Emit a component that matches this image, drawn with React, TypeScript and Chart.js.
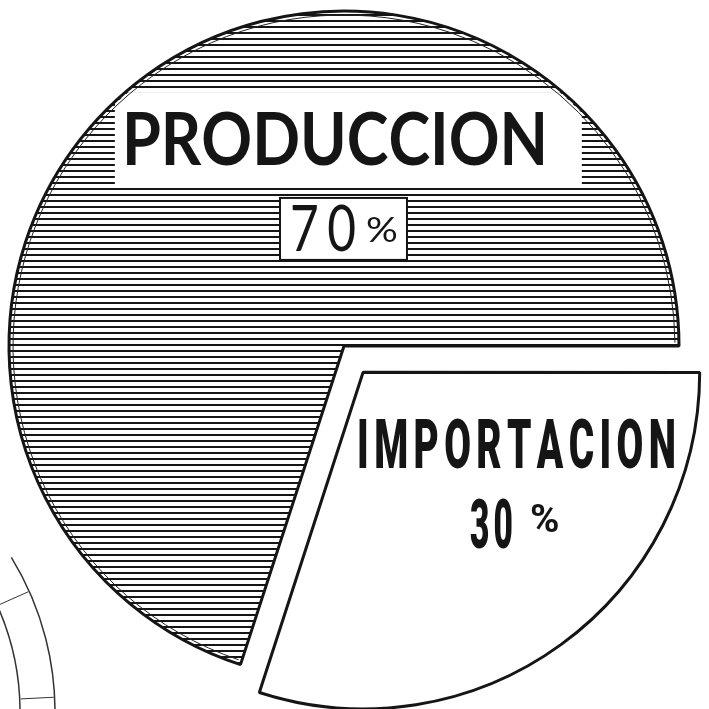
import React, { useEffect, useRef } from 'react';
import { Chart, registerables } from 'chart.js';

Chart.register(...registerables);

// ---- data ----
const categories = ['IMPORTACION', 'PRODUCCION'];
const shares = [30, 70];
const explodeOffsets = [130, 0];

function makeHatch(ctx: CanvasRenderingContext2D) {
  const c = document.createElement('canvas');
  c.width = 64;
  c.height = 6;
  const g = c.getContext('2d')!;
  g.fillStyle = '#ffffff';
  g.fillRect(0, 0, 64, 6);
  g.fillStyle = '#151515';
  g.fillRect(0, 2, 64, 2);
  return ctx.createPattern(c, 'repeat')!;
}

// draw text fitted to a width and cap height, with optional letter gap
function drawFitted(
  ctx: CanvasRenderingContext2D,
  text: string,
  x: number,
  baseline: number,
  width: number,
  cap: number,
  family: string,
  weight: string,
  gap: number,
  capRatio = 0.72
) {
  const size = cap / capRatio;
  ctx.font = `${weight} ${size}px ${family}`;
  const chars = text.split('');
  const ws = chars.map((ch) => ctx.measureText(ch).width);
  const sum = ws.reduce((a, b) => a + b, 0);
  const sx = (width - gap * (chars.length - 1)) / sum;
  let px = x;
  chars.forEach((ch, i) => {
    ctx.save();
    ctx.translate(px, baseline);
    ctx.scale(sx, 1);
    ctx.fillText(ch, 0, 0);
    ctx.restore();
    px += ws[i] * sx + gap;
  });
}

const labelPlugin = {
  id: 'labels',
  afterDatasetsDraw(chart: any) {
    const ctx: CanvasRenderingContext2D = chart.ctx;
    const meta = chart.getDatasetMeta(0);
    const main = meta.data[1];
    const { x: cx, y: cy, outerRadius: r } = main.getProps(['x', 'y', 'outerRadius'], true);

    ctx.save();
    ctx.textBaseline = 'alphabetic';
    ctx.textAlign = 'left';

    // white title band inside main pie
    ctx.save();
    ctx.beginPath();
    ctx.arc(cx, cy, r - 2, 0, Math.PI * 2);
    ctx.clip();
    ctx.fillStyle = '#ffffff';
    ctx.fillRect(cx - 0.684 * r, cy - 0.758 * r, 1.394 * r, 0.286 * r);
    ctx.restore();

    ctx.fillStyle = '#151515';
    drawFitted(ctx, categories[1], cx - 0.663 * r, cy - 0.54 * r, 1.272 * r, 0.155 * r,
      'Lato, "DejaVu Sans", sans-serif', 'bold', 0);

    // 70% box
    const bx = cx - 0.191 * r, by = cy - 0.442 * r, bw = 0.379 * r, bh = 0.185 * r;
    ctx.fillStyle = '#ffffff';
    ctx.fillRect(bx, by, bw, bh);
    ctx.strokeStyle = '#151515';
    ctx.lineWidth = 2;
    ctx.strokeRect(bx, by, bw, bh);
    ctx.fillStyle = '#151515';
    drawFitted(ctx, String(shares[1]), cx - 0.161 * r, cy - 0.284 * r, 0.197 * r, 0.137 * r,
      'Lato, "DejaVu Sans", sans-serif', 'normal', 0.025 * r);
    drawFitted(ctx, '%', cx + 0.066 * r, cy - 0.31 * r, 0.095 * r, 0.075 * r,
      'Lato, "DejaVu Sans", sans-serif', 'normal', 0);

    // IMPORTACION
    drawFitted(ctx, categories[0], cx + 0.039 * r, cy + 0.364 * r, 0.952 * r, 0.149 * r,
      'Roboto, "DejaVu Sans", sans-serif', '900', 0.016 * r);
    drawFitted(ctx, String(shares[0]), cx + 0.376 * r, cy + 0.603 * r, 0.128 * r, 0.149 * r,
      'Roboto, "DejaVu Sans", sans-serif', '900', 0.012 * r);
    drawFitted(ctx, '%', cx + 0.555 * r, cy + 0.555 * r, 0.088 * r, 0.084 * r,
      'Roboto, "DejaVu Sans", sans-serif', 'bold', 0);

    // inner line of the doubled outline of the main pie
    const start = main.startAngle, end = main.endAngle;
    ctx.strokeStyle = '#222';
    ctx.lineWidth = 1;
    ctx.beginPath();
    ctx.arc(cx, cy, r - 4, start + 0.01, end - 0.01);
    ctx.stroke();

    ctx.restore();
  },
  afterDraw(chart: any) {
    // fragment of a neighbouring chart at the lower-left edge
    const ctx: CanvasRenderingContext2D = chart.ctx;
    ctx.save();
    ctx.strokeStyle = '#333';
    ctx.lineWidth = 1.5;
    const fx = -241, fy = 712;
    ctx.beginPath();
    ctx.arc(fx, fy, 296, -0.55, 0.05);
    ctx.stroke();
    ctx.beginPath();
    ctx.arc(fx, fy, 261, -0.42, 0.05);
    ctx.stroke();
    ctx.lineWidth = 1;
    [-0.42, -0.05].forEach((a) => {
      ctx.beginPath();
      ctx.moveTo(fx + Math.cos(a) * 262, fy + Math.sin(a) * 262);
      ctx.lineTo(fx + Math.cos(a) * 295, fy + Math.sin(a) * 295);
      ctx.stroke();
    });
    ctx.restore();
  },
};

export default function App() {
  const ref = useRef<HTMLCanvasElement | null>(null);
  useEffect(() => {
    const canvas = ref.current!;
    const ctx = canvas.getContext('2d')!;
    const hatch = makeHatch(ctx);
    const chart = new Chart(canvas, {
      type: 'pie',
      data: {
        labels: categories,
        datasets: [
          {
            data: shares,
            backgroundColor: ['#ffffff', hatch],
            borderColor: '#151515',
            borderWidth: 3,
            offset: explodeOffsets,
            hoverOffset: 0,
            radius: 335,
            clip: false,
          } as any,
        ],
      },
      options: {
        responsive: false,
        animation: false,
        rotation: 90,
        layout: { padding: { left: 0, top: 0, right: 21, bottom: 17 } },
        plugins: { legend: { display: false }, tooltip: { enabled: false } },
        events: [],
      },
      plugins: [labelPlugin],
    });
    return () => chart.destroy();
  }, []);
  return (
    <div style={{ position: 'absolute', left: 0, top: 0, width: 709, height: 709, background: '#fff' }}>
      <canvas ref={ref} width={709} height={709} style={{ display: 'block' }} />
    </div>
  );
}
